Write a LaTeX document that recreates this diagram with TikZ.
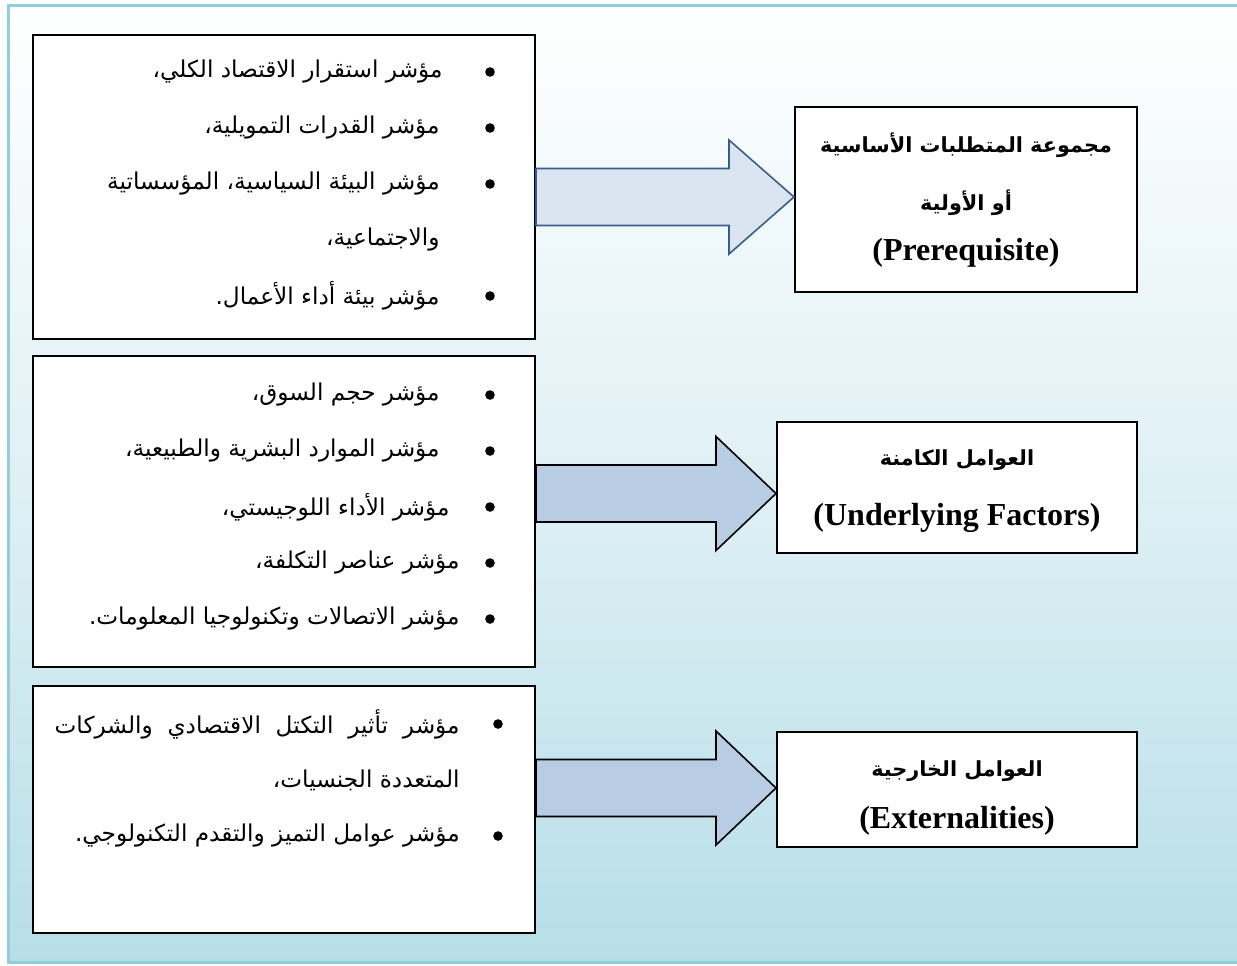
\documentclass[tikz,border=0pt]{standalone}
\usepackage{fontspec}
\setmainfont{Liberation Serif}
\newfontfamily\arabicfont[Script=Arabic]{DejaVu Sans}
\TeXXeTstate=1
\usetikzlibrary{calc}

\definecolor{frameblue}{RGB}{146,205,220}
\definecolor{bgblue}{RGB}{183,222,232}
\definecolor{palearrow}{RGB}{219,229,241}
\definecolor{midarrow}{RGB}{184,204,228}
\definecolor{arrowedge}{RGB}{56,93,138}

% right-to-left Arabic run
\newcommand\artext[1]{{\arabicfont\beginR #1\endR}}
% Arabic line justified to a given width
\newcommand\arjust[2]{\hbox to #1{\arabicfont #2}}

% broad block arrow from the east side of a box to a tip point
\newcommand\blockarrow[4]{%
  \coordinate (#2-#3-s) at (#2.east |- #3);
  \draw[#1] ($(#2-#3-s)+(0,-28.5)$) -- ($(#3)+(-#4,-28.5)$) -- ($(#3)+(-#4,-57)$)
    -- (#3) -- ($(#3)+(-#4,57)$) -- ($(#3)+(-#4,28.5)$) -- ($(#2-#3-s)+(0,28.5)$) -- cycle;}

\tikzset{
  listbox/.style={draw=black, line width=1pt, fill=white, inner sep=0pt},
  headbox/.style={draw=black, line width=1pt, fill=white, inner sep=0pt},
  item/.style={anchor=east, inner sep=0pt, font=\fontsize{11.6}{14}\selectfont},
  head/.style={inner sep=0pt, font=\fontsize{10.4}{13}\selectfont\bfseries},
  enghead/.style={inner sep=0pt, font=\fontsize{16}{18}\selectfont\bfseries},
  bul/.style={circle, fill=black, inner sep=0pt, minimum size=4.8pt},
  arrowpale/.style={fill=palearrow, draw=arrowedge, line width=0.8pt, line join=miter},
  arrowmid/.style={fill=midarrow, draw=black, line width=0.8pt, line join=miter}
}

\begin{document}
\begin{tikzpicture}[x=0.5pt, y=-0.5pt]
\useasboundingbox (0,0) rectangle (1237,965);
\fill[white] (0,0) rectangle (1237,965);

% page frame with vertical gradient
\shade[top color=white, bottom color=bgblue, middle color=bgblue!45!white] (8,5) rectangle (1250,962);
\draw[frameblue, line width=1.5pt] (1250,5) -- (8,5) -- (8,962) -- (1250,962);

% left boxes with the lists of indicators
\node[listbox, minimum width=251pt, minimum height=152pt] (L1) at (284,187) {};
\node[listbox, minimum width=251pt, minimum height=155.5pt] (L2) at (284,511.5) {};
\node[listbox, minimum width=251pt, minimum height=123.5pt] (L3) at (284,809.5) {};

% right boxes with the groups
\node[headbox, minimum width=171pt, minimum height=92.5pt] (R1) at (966,199.5) {};
\node[headbox, minimum width=180pt, minimum height=65.5pt] (R2) at (957,487.5) {};
\node[headbox, minimum width=180pt, minimum height=57.5pt] (R3) at (957,789.5) {};

% arrows
\coordinate (T1) at ($(R1.west)+(0,-2.5)$);
\coordinate (T2) at ($(R2.west)+(0,6)$);
\coordinate (T3) at ($(R3.west)+(0,-1.5)$);
\blockarrow{arrowpale}{L1}{T1}{65}
\blockarrow{arrowmid}{L2}{T2}{60}
\blockarrow{arrowmid}{L3}{T3}{60}

% first list
\node[bul] (b11) at (490,72) {};
\node[item] (t11) at (443,72) {\artext{مؤشر استقرار الاقتصاد الكلي،}};
\node[bul] (b12) at (490,128) {};
\node[item] (t12) at (440,128) {\artext{مؤشر القدرات التمويلية،}};
\node[bul] (b13) at (490,184) {};
\node[item] (t13) at (440,184) {\artext{مؤشر البيئة السياسية، المؤسساتية}};
\node[item] (t14) at (440,240) {\artext{والاجتماعية،}};
\node[bul] (b15) at (490,296) {};
\node[item] (t15) at (440,296) {\artext{مؤشر بيئة أداء الأعمال.}};

% second list
\node[bul] (b21) at (490,395) {};
\node[item] (t21) at (440,395) {\artext{مؤشر حجم السوق،}};
\node[bul] (b22) at (490,451) {};
\node[item] (t22) at (440,451) {\artext{مؤشر الموارد البشرية والطبيعية،}};
\node[bul] (b23) at (490,507) {};
\node[item] (t23) at (450,507) {\artext{مؤشر الأداء اللوجيستي،}};
\node[bul] (b24) at (490,563) {};
\node[item] (t24) at (460,563) {\artext{مؤشر عناصر التكلفة،}};
\node[bul] (b25) at (490,619) {};
\node[item] (t25) at (460,619) {\artext{مؤشر الاتصالات وتكنولوجيا المعلومات.}};

% third list
\node[bul] (b31) at (498,724) {};
\node[item] (t31) at (460,724) {\arjust{202.5pt}{\beginR مؤشر تأثير التكتل الاقتصادي والشركات\endR}};
\node[item] (t32) at (460,780) {\artext{المتعددة الجنسيات،}};
\node[bul] (b33) at (498,836) {};
\node[item] (t33) at (460,836) {\artext{مؤشر عوامل التميز والتقدم التكنولوجي.}};

% group titles
\node[head] (h11) at (966,145) {\artext{مجموعة المتطلبات الأساسية}};
\node[head] (h12) at (966,203) {\artext{أو الأولية}};
\node[enghead] (h13) at (966,253) {(Prerequisite)};

\node[head] (h21) at (957,460) {\artext{العوامل الكامنة}};
\node[enghead] (h22) at (957,518) {(Underlying Factors)};

\node[head] (h31) at (957,771) {\artext{العوامل الخارجية}};
\node[enghead] (h32) at (957,821) {(Externalities)};
\end{tikzpicture}
\end{document}
